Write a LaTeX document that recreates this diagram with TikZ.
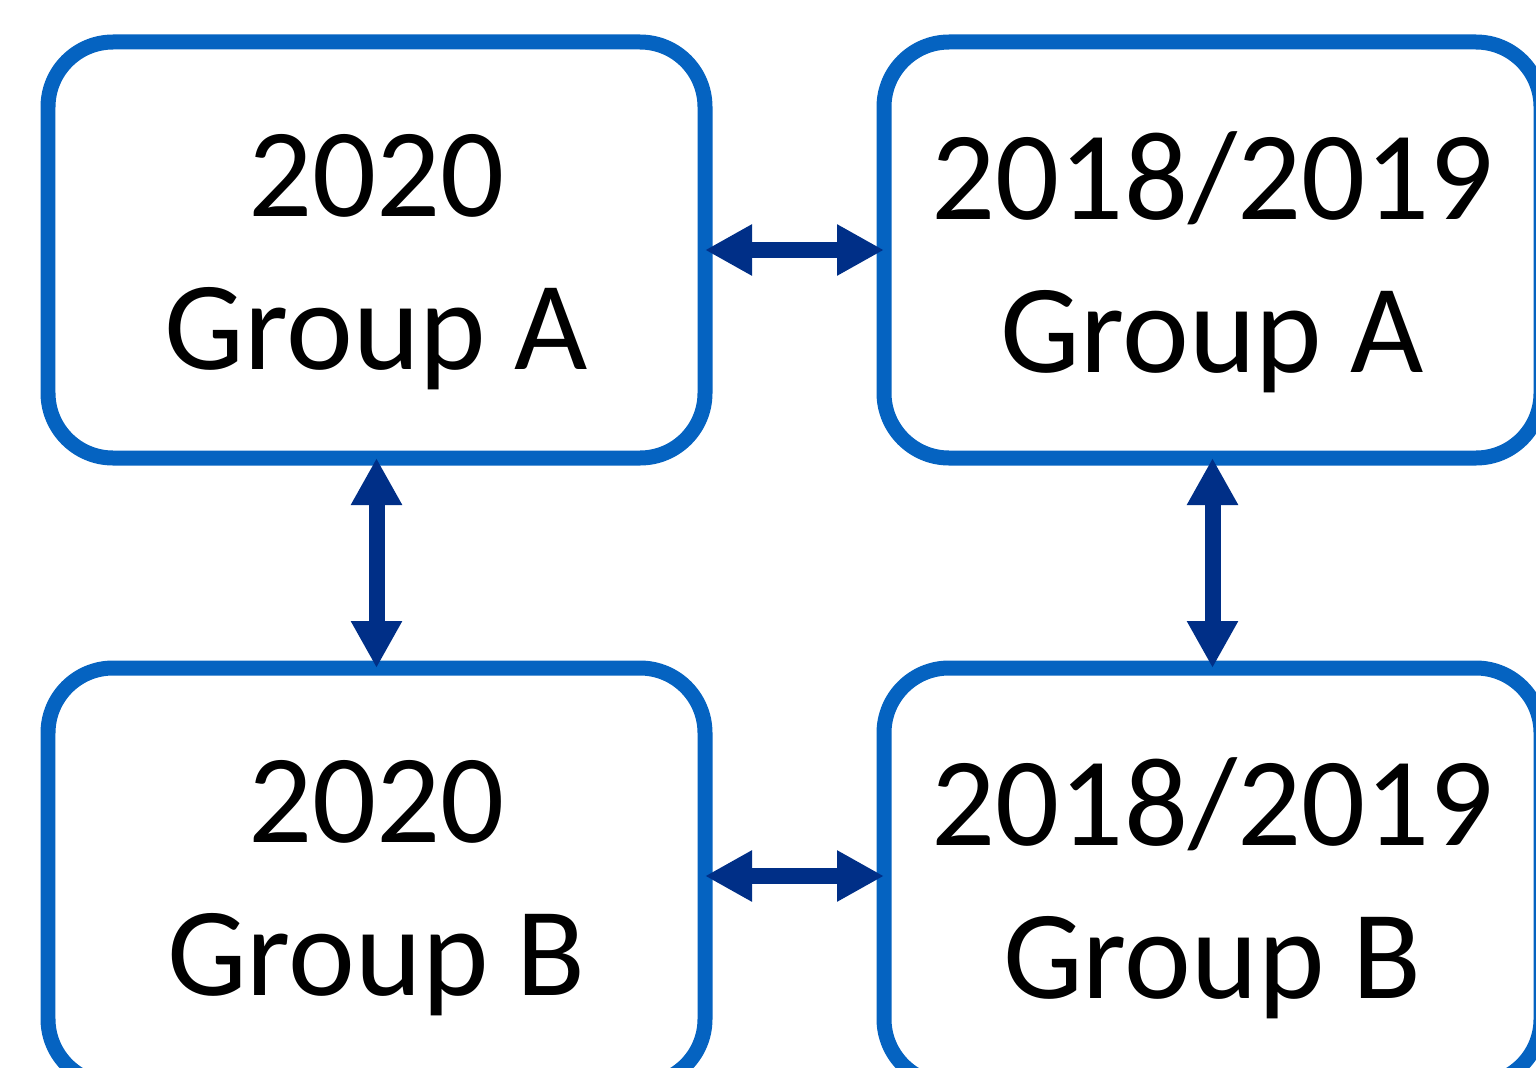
\documentclass[tikz,border=0pt]{standalone}
\usepackage{fontspec}
\setmainfont{Carlito}
\usetikzlibrary{arrows.meta}
\definecolor{boxblue}{HTML}{0563C1}
\definecolor{arrblue}{HTML}{002F87}
\tikzset{
  grpbox/.style={draw=boxblue, line width=0.15cm, rounded corners=0.65cm,
    minimum width=6.57cm, minimum height=4.16cm, outer sep=0pt, fill=white},
  lbl/.style={align=center, font=\fontsize{36}{43.5}\selectfont, inner sep=0pt},
  dbl/.style={arrblue, line width=0.16cm,
    {Triangle[length=0.47cm, width=0.48cm]}-{Triangle[length=0.47cm, width=0.48cm]}}
}
\begin{document}
\begin{tikzpicture}
\useasboundingbox (0,0) rectangle (15.36,10.67);
\clip (0,0) rectangle (15.36,10.67);
\node[grpbox] (a) at (3.765,8.17) {};
\node[grpbox] (b) at (12.125,8.17) {};
\node[grpbox] (c) at (3.765,1.91) {};
\node[grpbox] (d) at (12.125,1.91) {};
\node[lbl] (ta) at ([yshift=-0.12cm]a.center) {2020\\Group A};
\node[lbl] (tb) at ([yshift=-0.12cm]b.center) {2018/2019\\Group A};
\node[lbl] (tc) at ([yshift=-0.12cm]c.center) {2020\\Group B};
\node[lbl] (td) at ([yshift=-0.12cm]d.center) {2018/2019\\Group B};
\draw[dbl] (a.east) -- (b.west);
\draw[dbl] (c.east) -- (d.west);
\draw[dbl] (a.south) -- (c.north);
\draw[dbl] (b.south) -- (d.north);
\end{tikzpicture}
\end{document}
